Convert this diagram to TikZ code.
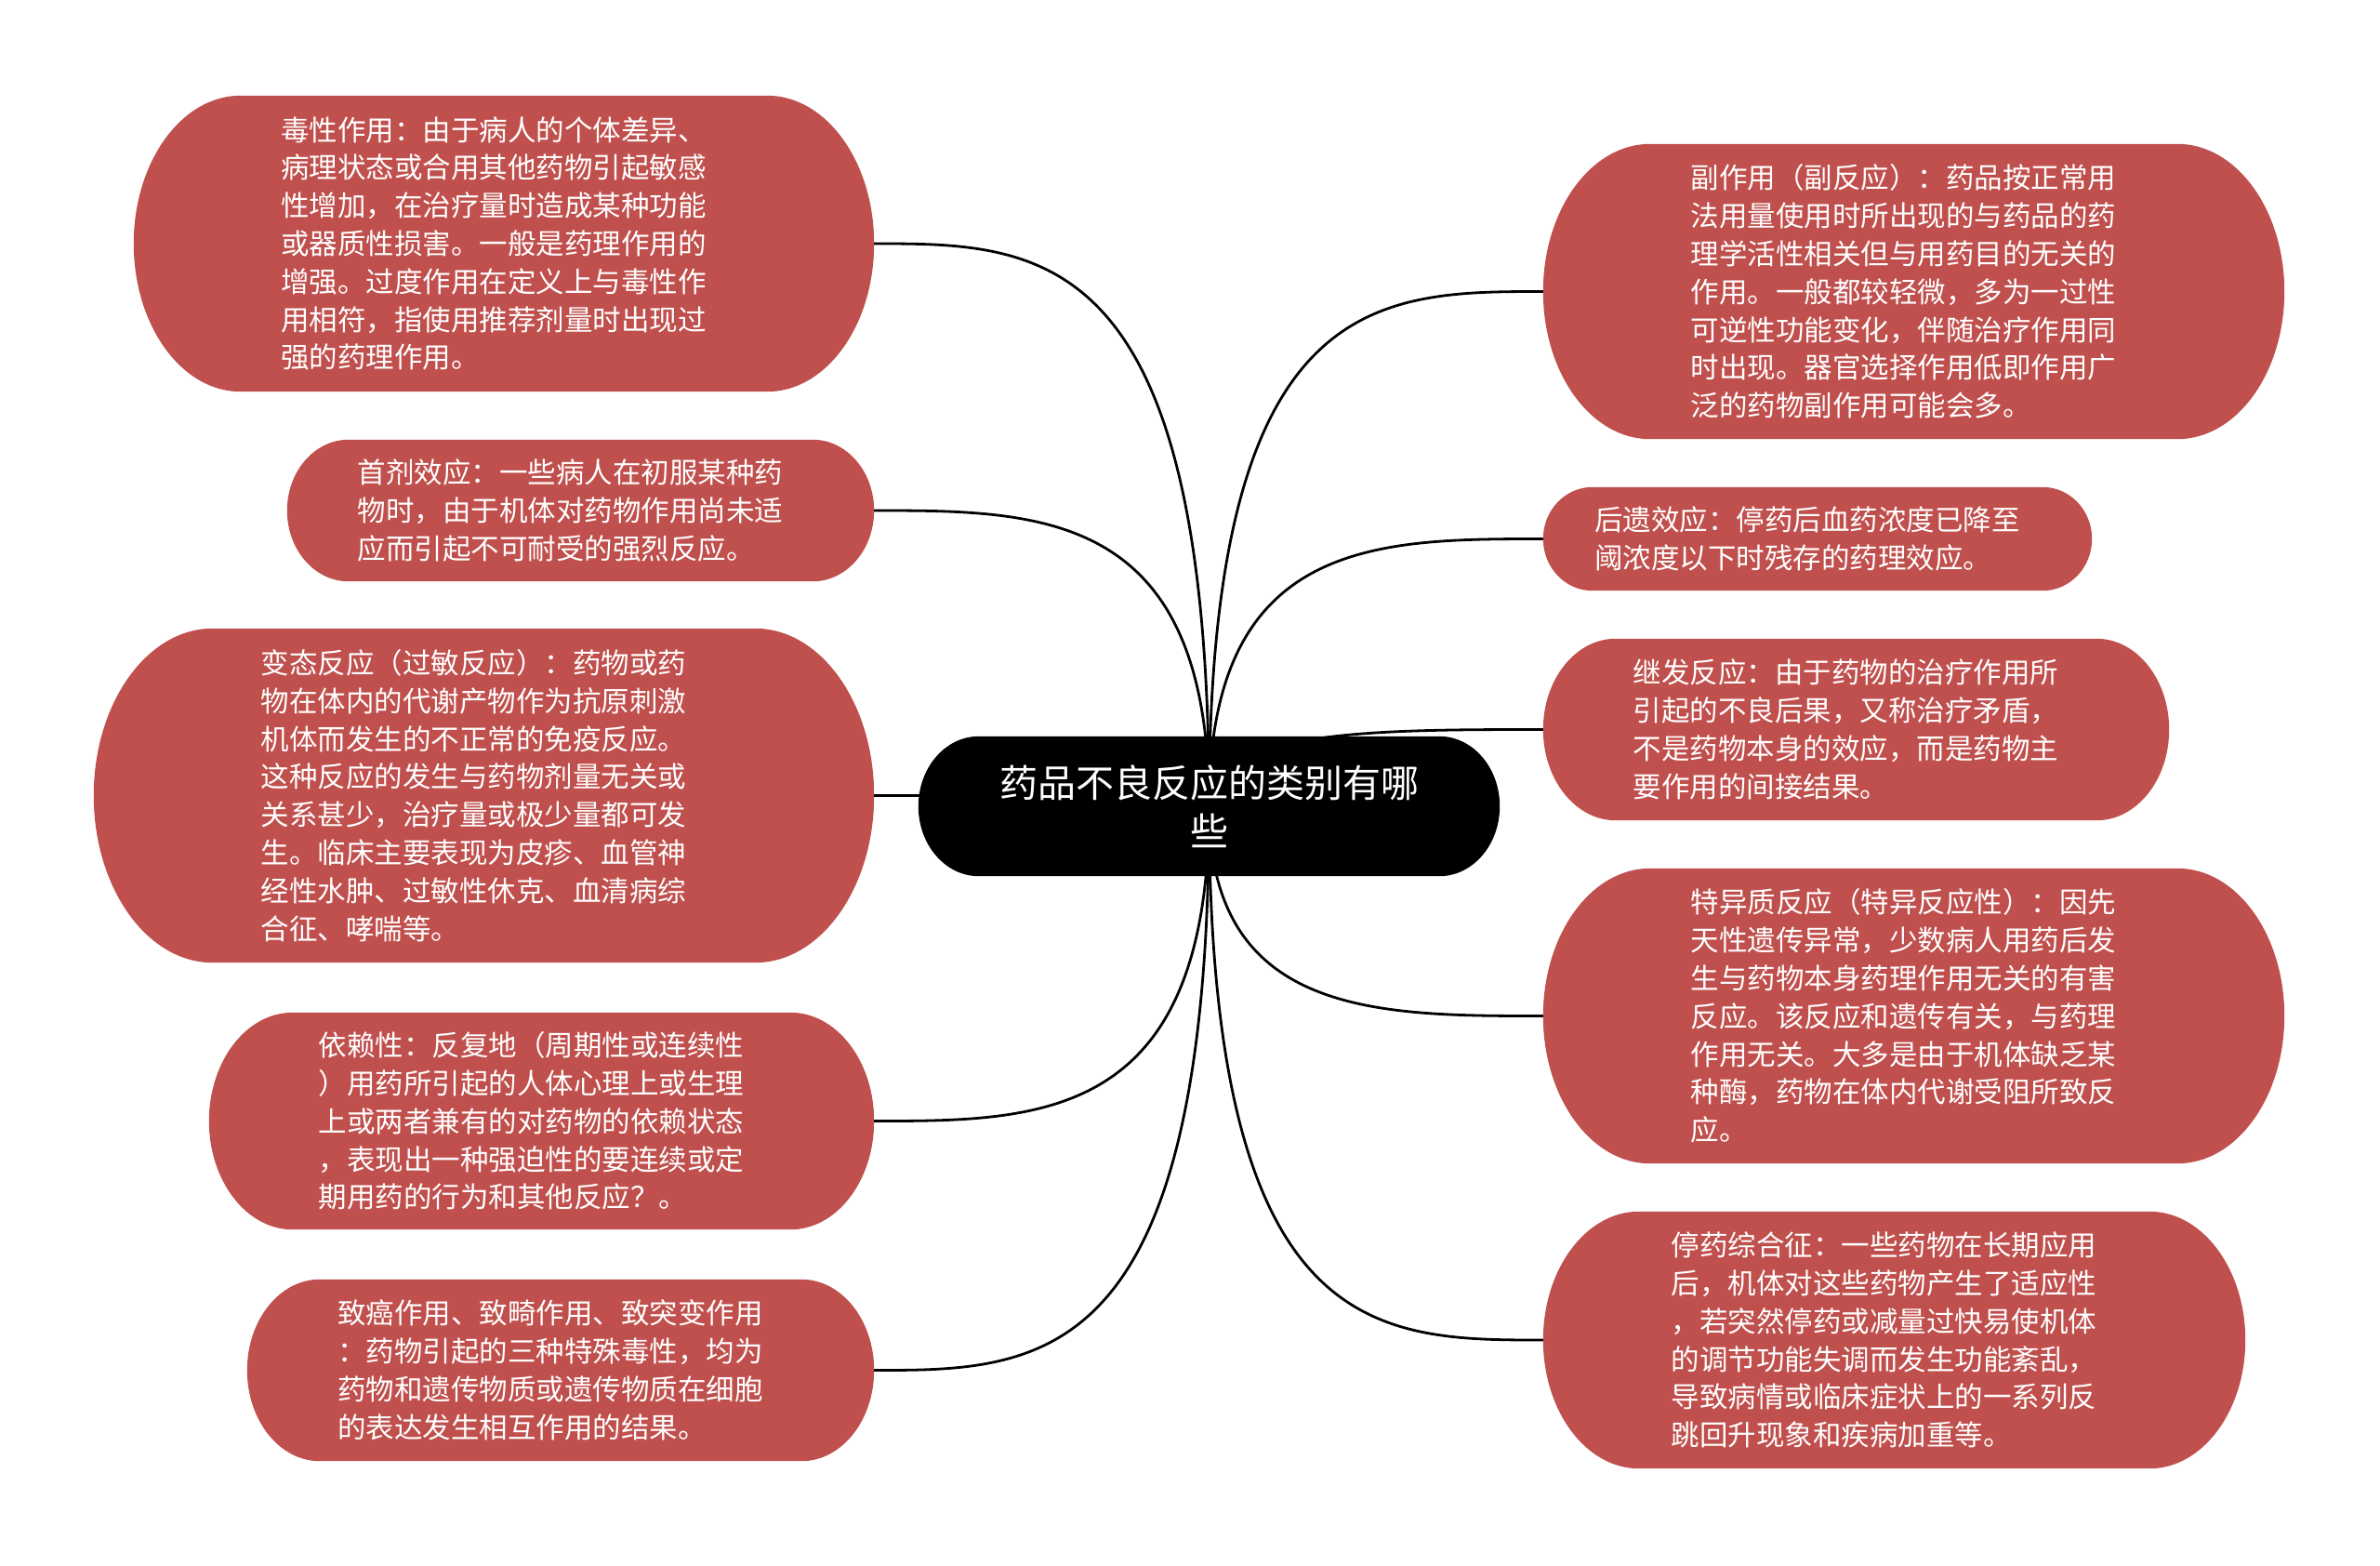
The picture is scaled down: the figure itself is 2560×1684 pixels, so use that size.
\documentclass[tikz,border=0pt]{standalone}
\usepackage{fontspec}
\newfontfamily\cjk{Noto Sans CJK SC}
\usetikzlibrary{calc}
\definecolor{boxred}{HTML}{C0504D}
\pgfdeclarelayer{paper}
\pgfdeclarelayer{lines}
\pgfdeclarelayer{boxes}
\pgfsetlayers{paper,lines,boxes,main}
\newcommand\pillshape[3]{%
  \fill[#1] let \p1=(#2.south west), \p2=(#2.north east), \n1={(\y2-\y1)/2} in
    (\x1+#3,\y1) -- (\x2-#3,\y1)
    arc[start angle=-90, end angle=90, x radius=#3pt, y radius=\n1]
    -- (\x1+#3,\y2)
    arc[start angle=90, end angle=270, x radius=#3pt, y radius=\n1] -- cycle;}
\newcommand\linkleft[1]{%
  \draw[conn] (root.center) .. controls (root.center |- #1.east) and ($(root.center |- #1.east)!0.5!(#1.east)$) .. (#1.east);}
\newcommand\linkright[1]{%
  \draw[conn] (root.center) .. controls (root.center |- #1.west) and ($(root.center |- #1.west)!0.5!(#1.west)$) .. (#1.west);}
\tikzset{
  item/.style={inner sep=0pt, text=white, align=left, text width=480pt,
    font=\cjk\fontsize{30.5}{40.8}\selectfont},
  rootnode/.style={inner sep=0pt, text=white, align=center, text width=560pt,
    font=\cjk\fontsize{41}{52}\selectfont, minimum width=625pt, minimum height=150pt},
  conn/.style={line width=2.8pt, black},
}
\begin{document}
\begin{tikzpicture}[x=1pt, y=-1pt]
\useasboundingbox (0,0) rectangle (2560,1684);
\begin{pgfonlayer}{paper}
\fill[white] (0,0) rectangle (2560,1684);
\end{pgfonlayer}

\node[rootnode] (root) at (1300.5,867) {药品不良反应的类别有哪\\些};

% left side
\node[item, minimum width=796pt, minimum height=318pt] (b1) at (542,262)
 {毒性作用：由于病人的个体差异、\\病理状态或合用其他药物引起敏感\\性增加，在治疗量时造成某种功能\\或器质性损害。一般是药理作用的\\增强。过度作用在定义上与毒性作\\用相符，指使用推荐剂量时出现过\\强的药理作用。};
\node[item, minimum width=631pt, minimum height=152pt] (b2) at (624.5,549)
 {首剂效应：一些病人在初服某种药\\物时，由于机体对药物作用尚未适\\应而引起不可耐受的强烈反应。};
\node[item, minimum width=839pt, minimum height=359pt] (b3) at (520.5,855.5)
 {变态反应（过敏反应）：药物或药\\物在体内的代谢产物作为抗原刺激\\机体而发生的不正常的免疫反应。\\这种反应的发生与药物剂量无关或\\关系甚少，治疗量或极少量都可发\\生。临床主要表现为皮疹、血管神\\经性水肿、过敏性休克、血清病综\\合征、哮喘等。};
\node[item, minimum width=715pt, minimum height=233pt] (b4) at (582.5,1205.5)
 {依赖性：反复地（周期性或连续性\\）用药所引起的人体心理上或生理\\上或两者兼有的对药物的依赖状态\\，表现出一种强迫性的要连续或定\\期用药的行为和其他反应？。};
\node[item, minimum width=674pt, minimum height=195pt] (b5) at (603,1473.5)
 {致癌作用、致畸作用、致突变作用\\：药物引起的三种特殊毒性，均为\\药物和遗传物质或遗传物质在细胞\\的表达发生相互作用的结果。};

% right side
\node[item, minimum width=797pt, minimum height=317pt] (r1) at (2058.5,313.5)
 {副作用（副反应）：药品按正常用\\法用量使用时所出现的与药品的药\\理学活性相关但与用药目的无关的\\作用。一般都较轻微，多为一过性\\可逆性功能变化，伴随治疗作用同\\时出现。器官选择作用低即作用广\\泛的药物副作用可能会多。};
\node[item, minimum width=590pt, minimum height=111pt] (r2) at (1955,579.5)
 {后遗效应：停药后血药浓度已降至\\阈浓度以下时残存的药理效应。};
\node[item, minimum width=673pt, minimum height=195pt] (r3) at (1996.5,784.5)
 {继发反应：由于药物的治疗作用所\\引起的不良后果，又称治疗矛盾，\\不是药物本身的效应，而是药物主\\要作用的间接结果。};
\node[item, minimum width=797pt, minimum height=317pt] (r4) at (2058.5,1092.5)
 {特异质反应（特异反应性）：因先\\天性遗传异常，少数病人用药后发\\生与药物本身药理作用无关的有害\\反应。该反应和遗传有关，与药理\\作用无关。大多是由于机体缺乏某\\种酶，药物在体内代谢受阻所致反\\应。};
\node[item, minimum width=755pt, minimum height=276pt] (r5) at (2037.5,1441)
 {停药综合征：一些药物在长期应用\\后，机体对这些药物产生了适应性\\，若突然停药或减量过快易使机体\\的调节功能失调而发生功能紊乱，\\导致病情或临床症状上的一系列反\\跳回升现象和疾病加重等。};

\begin{pgfonlayer}{boxes}
  \pillshape{black}{root}{65}
  \pillshape{boxred}{b1}{115}
  \pillshape{boxred}{b2}{66}
  \pillshape{boxred}{b3}{128}
  \pillshape{boxred}{b4}{90}
  \pillshape{boxred}{b5}{78}
  \pillshape{boxred}{r1}{115}
  \pillshape{boxred}{r2}{53}
  \pillshape{boxred}{r3}{78}
  \pillshape{boxred}{r4}{115}
  \pillshape{boxred}{r5}{103}
\end{pgfonlayer}

\begin{pgfonlayer}{lines}
  \linkleft{b1}
  \linkleft{b2}
  \linkleft{b3}
  \linkleft{b4}
  \linkleft{b5}
  \linkright{r1}
  \linkright{r2}
  \linkright{r3}
  \linkright{r4}
  \linkright{r5}
\end{pgfonlayer}
\end{tikzpicture}
\end{document}
